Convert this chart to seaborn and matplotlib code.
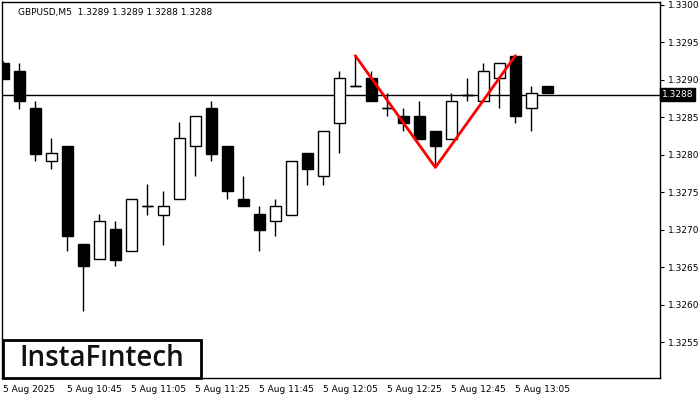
import matplotlib
matplotlib.use("Agg")
import matplotlib.pyplot as plt
import seaborn as sns
import numpy as np
import pandas as pd
from matplotlib.patches import Rectangle

# ---- data (GBPUSD M5) ----
times = ["10:25", "10:30", "10:35", "10:40", "10:45", "10:50", "10:55", "11:00",
         "11:05", "11:10", "11:15", "11:20", "11:25", "11:30", "11:35", "11:40",
         "11:45", "11:50", "11:55", "12:00", "12:05", "12:10", "12:15", "12:20",
         "12:25", "12:30", "12:35", "12:40", "12:45", "12:50", "12:55", "13:00",
         "13:05", "13:10", "13:15"]
opens = [1.32922, 1.32912, 1.32862, 1.32791, 1.32812, 1.32681, 1.32661, 1.32701,
         1.32671, 1.32732, 1.32720, 1.32741, 1.32811, 1.32862, 1.32812, 1.32741,
         1.32721, 1.32711, 1.32720, 1.32802, 1.32771, 1.32842, 1.32891, 1.32902,
         1.32862, 1.32852, 1.32852, 1.32832, 1.32821, 1.32880, 1.32871, 1.32902,
         1.32932, 1.32862, 1.32892]
highs = [1.32925, 1.32922, 1.32872, 1.32822, 1.32812, 1.32681, 1.32721, 1.32711,
         1.32741, 1.32761, 1.32752, 1.32843, 1.32851, 1.32872, 1.32812, 1.32772,
         1.32732, 1.32741, 1.32791, 1.32802, 1.32831, 1.32912, 1.32932, 1.32912,
         1.32882, 1.32862, 1.32872, 1.32832, 1.32882, 1.32902, 1.32922, 1.32922,
         1.32932, 1.32892, 1.32892]
lows = [1.32901, 1.32861, 1.32791, 1.32781, 1.32671, 1.32591, 1.32661, 1.32651,
        1.32671, 1.32720, 1.32680, 1.32741, 1.32771, 1.32791, 1.32741, 1.32731,
        1.32671, 1.32691, 1.32720, 1.32760, 1.32760, 1.32802, 1.32891, 1.32871,
        1.32851, 1.32831, 1.32821, 1.32783, 1.32821, 1.32871, 1.32871, 1.32862,
        1.32842, 1.32831, 1.32882]
closes = [1.32901, 1.32871, 1.32801, 1.32802, 1.32691, 1.32651, 1.32711, 1.32660,
          1.32741, 1.32732, 1.32731, 1.32822, 1.32851, 1.32801, 1.32751, 1.32731,
          1.32700, 1.32731, 1.32791, 1.32781, 1.32831, 1.32902, 1.32891, 1.32871,
          1.32862, 1.32842, 1.32821, 1.32811, 1.32871, 1.32880, 1.32912, 1.32922,
          1.32851, 1.32882, 1.32882]

# pattern (double top) points: candle index and price
pattern_idx = [22, 27, 32]
pattern_price = [1.32932, 1.32783, 1.32932]

current_price = 1.3288
y_ticks = [1.3255, 1.3260, 1.3265, 1.3270, 1.3275, 1.3280, 1.3285, 1.3290, 1.3295, 1.3300]
x_tick_idx = [0, 4, 8, 12, 16, 20, 24, 28, 32]
x_tick_labels = ["5 Aug 2025", "5 Aug 10:45", "5 Aug 11:05", "5 Aug 11:25", "5 Aug 11:45",
                 "5 Aug 12:05", "5 Aug 12:25", "5 Aug 12:45", "5 Aug 13:05"]
header = "GBPUSD,M5  1.3289 1.3289 1.3288 1.3288"

df = pd.DataFrame({"t": times, "open": opens, "high": highs, "low": lows, "close": closes})
df["x"] = np.arange(len(df))

sns.set_style("white")
plt.rcParams["font.family"] = ["DejaVu Sans"]

fig = plt.figure(figsize=(7, 4), dpi=100)
ax = fig.add_axes([2 / 700, 1 - 378 / 400, 658 / 700, 376 / 400])

# wicks
ax.vlines(df["x"], df["low"], df["high"], color="black", linewidth=1.0, zorder=2)
# bodies
bull = df["close"] >= df["open"]
body_bottom = np.minimum(df["open"], df["close"])
body_h = np.abs(df["close"] - df["open"])
body_h = np.where(body_h < 1e-6, 0.0, body_h)
ax.bar(df["x"][bull], body_h[bull], bottom=body_bottom[bull], width=0.66,
       color="white", edgecolor="black", linewidth=1.0, zorder=3)
ax.bar(df["x"][~bull], body_h[~bull], bottom=body_bottom[~bull], width=0.66,
       color="black", edgecolor="black", linewidth=1.0, zorder=3)
# doji ticks
doji = np.abs(df["close"] - df["open"]) < 1e-6
ax.hlines(df["open"][doji], df["x"][doji] - 0.33, df["x"][doji] + 0.33,
          color="black", linewidth=1.0, zorder=3)

# current price line
ax.axhline(current_price, color="black", linewidth=1.0, zorder=1)

# pattern lines
sns.lineplot(x=pattern_idx, y=pattern_price, ax=ax, color="#ff0000", linewidth=2.0,
             zorder=5, sort=False)

ax.set_xlim(-0.08, 41.04)
ax.set_ylim(1.325023, 1.330036)

ax.yaxis.tick_right()
ax.set_yticks(y_ticks)
ax.set_yticklabels([f"{v:.4f}" for v in y_ticks], fontsize=6.5, color="black")
ax.set_xticks(x_tick_idx)
ax.set_xticklabels(x_tick_labels, fontsize=6.5, ha="left", color="black")
ax.tick_params(axis="both", direction="out", length=3, width=0.8, color="black", pad=2)
ax.tick_params(axis="y", pad=3)
for s in ax.spines.values():
    s.set_visible(True)
    s.set_color("black")
    s.set_linewidth(1.0)
ax.set_xlabel("")
ax.set_ylabel("")
ax.grid(False)

# current price label
ax.text(1.003, current_price, f"{current_price:.4f}", transform=ax.get_yaxis_transform(),
        ha="left", va="center", fontsize=6.5, color="white",
        bbox=dict(boxstyle="square,pad=0.2", facecolor="black", edgecolor="black"),
        zorder=10, clip_on=False)

# header
fig.text(18 / 700, 1 - 12 / 400, header, fontsize=6.5, color="black", ha="left", va="center")

# logo
fig.patches.append(Rectangle((3 / 700, 1 - 378 / 400), 198 / 700, 38 / 400,
                             transform=fig.transFigure, facecolor="white",
                             edgecolor="black", linewidth=2.0, zorder=20))
fig.text(102 / 700, 1 - 359 / 400, "InstaF\u0131ntech", fontsize=20, color="#111111",
         ha="center", va="center", family=["Open Sans", "DejaVu Sans"], weight="semibold",
         zorder=21)

fig.savefig("out.png", dpi=100)
